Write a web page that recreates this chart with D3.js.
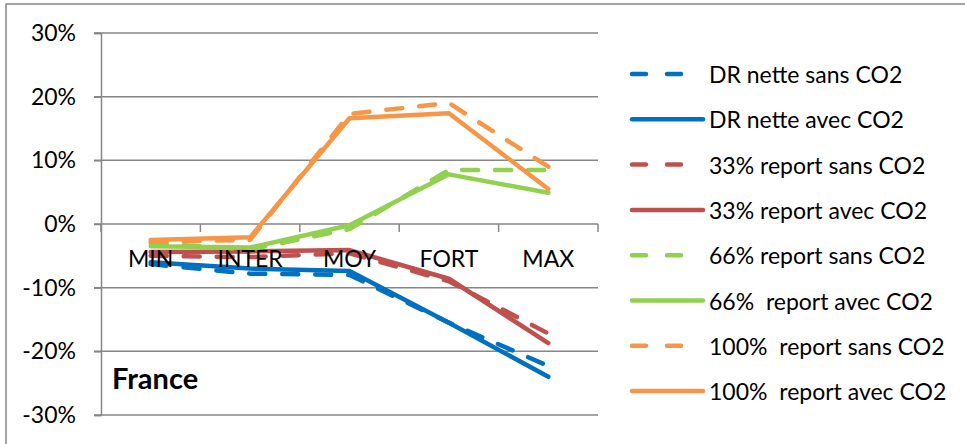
<!DOCTYPE html>
<html>
<head>
<meta charset="utf-8">
<script src="https://d3js.org/d3.v7.min.js"></script>
<style>
  body { margin: 0; background: #fff; }
  svg { display: block; font-family: Lato, "Open Sans", sans-serif; }
  text { white-space: pre; }
</style>
</head>
<body>
<div id="chart"></div>
<script>
// categories and tick values
var categories = ['MIN', 'INTER', 'MOY', 'FORT', 'MAX'];
var yTicks = [-30, -20, -10, 0, 10, 20, 30];

// series values (%)
var drSans   = [-6.3, -7.8, -8.0, -15.5, -22.3];
var drAvec   = [-6.0, -7.0, -7.4, -15.5, -24.0];
var r33Sans  = [-5.0, -5.2, -4.6, -9.0, -17.2];
var r33Avec  = [-4.4, -4.3, -4.1, -8.6, -18.7];
var r66Sans  = [-3.0, -4.0, -0.8, 8.5, 8.5];
var r66Avec  = [-3.5, -3.7, -0.2, 7.8, 4.9];
var r100Sans = [-2.8, -2.5, 17.3, 19.0, 9.0];
var r100Avec = [-2.5, -2.1, 16.6, 17.4, 5.5];

var seriesNames = ['DR nette sans CO2', 'DR nette avec CO2', '33% report sans CO2', '33% report avec CO2',
  '66% report sans CO2', '66%  report avec CO2', '100%  report sans CO2', '100%  report avec CO2'];
var seriesValues = [drSans, drAvec, r33Sans, r33Avec, r66Sans, r66Avec, r100Sans, r100Avec];
var seriesColors = ['#0070C0', '#0070C0', '#C0504D', '#C0504D', '#92D050', '#92D050', '#F79646', '#F79646'];
var seriesDashed = [true, false, true, false, true, false, true, false];

var width = 965, height = 444;
var plot = { left: 101, right: 598, top: 33, bottom: 415 };

var svg = d3.select('#chart').append('svg')
  .attr('width', width)
  .attr('height', height);

// outer frame
svg.append('rect')
  .attr('x', 6).attr('y', 4)
  .attr('width', 975).attr('height', 460)
  .attr('fill', 'none')
  .attr('stroke', '#868686')
  .attr('stroke-width', 1.5);

var x = d3.scaleBand().domain(categories).range([plot.left, plot.right]);
var y = d3.scaleLinear().domain([-30, 30]).range([plot.bottom, plot.top]);

// horizontal gridlines
svg.append('g').selectAll('line')
  .data(yTicks)
  .enter()
  .append('line')
  .attr('x1', plot.left - 7)
  .attr('x2', plot.right)
  .attr('y1', function(d) { return y(d); })
  .attr('y2', function(d) { return y(d); })
  .attr('stroke', '#868686')
  .attr('stroke-width', 1.5);

// y axis
var yAxis = svg.append('g')
  .attr('transform', 'translate(' + plot.left + ',0)')
  .call(d3.axisLeft(y).tickValues(yTicks).tickSize(7).tickPadding(18)
    .tickFormat(function(d) { return d + '%'; }));
yAxis.select('.domain').attr('stroke', '#868686').attr('stroke-width', 1.5);
yAxis.selectAll('.tick line').attr('stroke', '#868686').attr('stroke-width', 1.5);
yAxis.selectAll('text')
  .attr('font-size', 23)
  .attr('font-family', 'Lato, sans-serif')
  .attr('fill', '#000');

// x axis on the 0 line, ticks at band edges
var xAxis = svg.append('g')
  .attr('transform', 'translate(0,' + y(0) + ')');
xAxis.selectAll('line')
  .data(categories.concat(['end']))
  .enter()
  .append('line')
  .attr('x1', function(d, i) { return plot.left + i * x.bandwidth(); })
  .attr('x2', function(d, i) { return plot.left + i * x.bandwidth(); })
  .attr('y1', 0)
  .attr('y2', 8)
  .attr('stroke', '#868686')
  .attr('stroke-width', 1.5);

// lines
var line = d3.line()
  .x(function(d, i) { return x(categories[i]) + x.bandwidth() / 2; })
  .y(function(d) { return y(d); });

svg.append('g').selectAll('path')
  .data(seriesValues)
  .enter()
  .append('path')
  .attr('d', line)
  .attr('fill', 'none')
  .attr('stroke', function(d, i) { return seriesColors[i]; })
  .attr('stroke-width', 4.5)
  .attr('stroke-linecap', 'round')
  .attr('stroke-linejoin', 'round')
  .attr('stroke-dasharray', function(d, i) { return seriesDashed[i] ? '16,17' : null; });

// category labels sit on top of the lines
svg.append('g')
  .attr('transform', 'translate(0,' + y(0) + ')')
  .selectAll('text')
  .data(categories)
  .enter()
  .append('text')
  .attr('x', function(d) { return x(d) + x.bandwidth() / 2; })
  .attr('y', 43)
  .attr('text-anchor', 'middle')
  .attr('font-size', 23)
  .attr('fill', '#000')
  .text(function(d) { return d; });

// "France" label
svg.append('text')
  .attr('x', 112)
  .attr('y', 389)
  .attr('font-size', 29)
  .attr('font-weight', 'bold')
  .attr('fill', '#000')
  .text('France');

// legend
var legend = svg.append('g').selectAll('g')
  .data(seriesNames)
  .enter()
  .append('g')
  .attr('transform', function(d, i) { return 'translate(632,' + (74 + i * 45.3) + ')'; });
legend.append('line')
  .attr('x1', 0)
  .attr('x2', function(d, i) { return seriesDashed[i] ? 53 : 71; })
  .attr('y1', 0).attr('y2', 0)
  .attr('stroke', function(d, i) { return seriesColors[i]; })
  .attr('stroke-width', 4.5)
  .attr('stroke-linecap', 'round')
  .attr('stroke-dasharray', function(d, i) { return seriesDashed[i] ? '14,21' : null; });
legend.append('text')
  .attr('x', 77)
  .attr('y', 9)
  .attr('font-size', 23)
  .attr('fill', '#000')
  .text(function(d) { return d; });
</script>
</body>
</html>
